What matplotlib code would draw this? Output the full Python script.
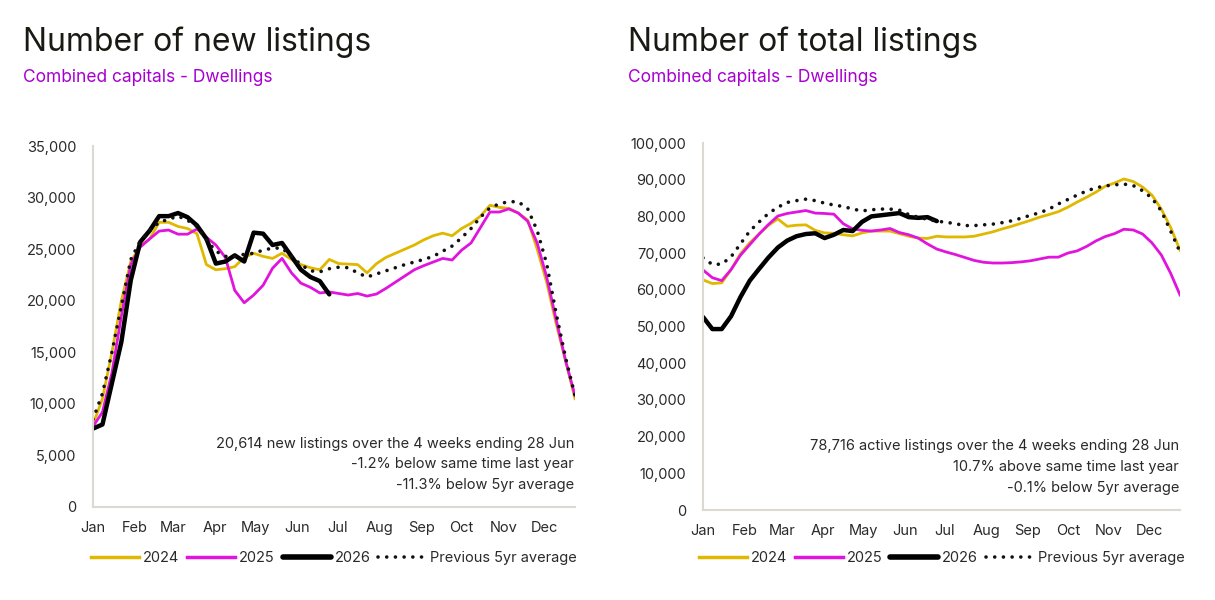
import matplotlib
matplotlib.use("Agg")
import matplotlib.pyplot as plt
from matplotlib.lines import Line2D
from matplotlib.ticker import FuncFormatter

plt.rcParams['font.family'] = ['Inter', 'DejaVu Sans']

# ── Data (weekly, week 0..51) ──
months = ["Jan", "Feb", "Mar", "Apr", "May", "Jun", "Jul", "Aug", "Sep", "Oct", "Nov", "Dec"]
month_start_week = [0, 31/7, 59/7, 90/7, 120/7, 151/7, 181/7, 212/7, 243/7, 273/7, 304/7, 334/7]

new_2024 = [8000, 10500, 15000, 20000, 23800, 25300, 26000, 27600, 27600, 27200,
            27000, 26500, 23500, 23000, 23100, 23300, 24200, 24600, 24300, 24100,
            24600, 24000, 23500, 23200, 23000, 24000, 23600, 23550, 23500, 22700,
            23600, 24200, 24600, 25000, 25400, 25900, 26300, 26550, 26300, 27000,
            27500, 28200, 29250, 29050, 28950, 28500, 27800, 25000, 21800, 17800,
            14200, 10500]
new_2025 = [7800, 9200, 13000, 18500, 23500, 25200, 26000, 26750, 26850, 26450,
            26450, 26950, 26150, 25400, 24200, 21000, 19800, 20550, 21500, 23150,
            24100, 22700, 21700, 21300, 20750, 20850, 20700, 20550, 20700, 20450,
            20650, 21200, 21800, 22400, 23000, 23400, 23750, 24100, 23950, 24900,
            25600, 27100, 28600, 28600, 28900, 28500, 27700, 25600, 22300, 18200,
            14200, 10800]
new_2026 = [7600, 8000, 12000, 16000, 22000, 25700, 26800, 28200, 28200, 28500,
            28100, 27300, 26000, 23600, 23800, 24400, 23800, 26600, 26500, 25400,
            25600, 24300, 23000, 22300, 21900, 20614]
new_avg = [8500, 11000, 15000, 19500, 24000, 25800, 26800, 27600, 27900, 28200,
           27800, 27200, 25900, 24800, 24300, 24300, 24500, 24600, 24900, 25100,
           25100, 24300, 23500, 22900, 22800, 23100, 23250, 23200, 22700, 22300,
           22600, 22900, 23200, 23500, 23750, 24000, 24300, 24800, 25300, 26100,
           27000, 28100, 29000, 29400, 29600, 29600, 28900, 26800, 23600, 18800,
           14500, 10800]

tot_2024 = [62700, 61700, 61900, 65500, 69800, 72800, 75200, 77600, 79300, 77300,
            77600, 77700, 76200, 75500, 75400, 75000, 74700, 75500, 76000, 76000,
            76000, 75300, 74600, 74100, 74000, 74600, 74400, 74400, 74400, 74600,
            75200, 75800, 76600, 77300, 78100, 78900, 79800, 80500, 81300, 82500,
            83900, 85200, 86600, 88200, 89100, 90200, 89500, 88000, 85800, 82000,
            77000, 70800]
tot_2025 = [65400, 63300, 62500, 65500, 69400, 72300, 75200, 77800, 80100, 80800,
            81200, 81600, 80900, 80800, 80600, 78000, 76600, 76200, 76000, 76300,
            76700, 75600, 75000, 74100, 72500, 71100, 70300, 69600, 68800, 68000,
            67500, 67300, 67300, 67400, 67600, 67900, 68400, 68900, 68900, 70000,
            70600, 71800, 73300, 74500, 75300, 76500, 76300, 75200, 72800, 69500,
            64500, 58600]
tot_2026 = [52600, 49300, 49300, 52800, 58000, 62500, 65700, 68800, 71500, 73400,
            74600, 75200, 75400, 74100, 75000, 76300, 76000, 78500, 80000, 80300,
            80600, 80900, 79800, 79600, 79800, 78716]
tot_avg = [68700, 66900, 67000, 69000, 72500, 76000, 78500, 80800, 82500, 83800,
           84300, 84700, 84300, 83600, 83100, 82700, 82000, 81500, 81800, 82000,
           82000, 81700, 80500, 79800, 79200, 78700, 78400, 78000, 77500, 77500,
           77700, 77900, 78300, 78800, 79500, 80300, 81000, 82000, 83400, 84600,
           85800, 86900, 87800, 88300, 88600, 88800, 88400, 87000, 85000, 81500,
           76000, 70300]

# ── Style ──
GOLD = '#E0B800'
MAGENTA = '#E014DC'
PURPLE = '#A800D0'
SPINE = '#dcd9d2'
TXT = '#2a2a2a'


def draw_panel(ax, s24, s25, s26, savg, ymax, ystep, notes, leg_y):
    ax.plot(range(len(s24)), s24, color=GOLD, lw=2.0, solid_joinstyle='round')
    ax.plot(range(len(s25)), s25, color=MAGENTA, lw=2.0, solid_joinstyle='round')
    ax.plot(range(len(s26)), s26, color='black', lw=3.2, solid_joinstyle='round',
            solid_capstyle='round')
    ax.plot(range(len(savg)), savg, color='#111111', lw=2.6,
            linestyle=(0, (0.01, 2.4)), dash_capstyle='round')
    ax.set_xlim(0, 51)
    ax.set_ylim(0, ymax)
    ax.set_yticks(range(0, ymax + 1, ystep))
    ax.yaxis.set_major_formatter(FuncFormatter(lambda v, p: f"{int(v):,}"))
    ax.set_xticks(month_start_week)
    ax.set_xticklabels(months)
    ax.tick_params(length=0, labelsize=10.5, colors=TXT)
    ax.tick_params(axis='y', pad=12)
    ax.tick_params(axis='x', pad=10)
    for s in ('top', 'right'):
        ax.spines[s].set_visible(False)
    for s in ('left', 'bottom'):
        ax.spines[s].set_color(SPINE)
        ax.spines[s].set_linewidth(1.5)
    for i, t in enumerate(notes):
        ax.text(0.998, 0.175 - i * 0.057, t, transform=ax.transAxes, ha='right',
                va='center', fontsize=10.5, color=TXT)
    handles = [
        Line2D([], [], color=GOLD, lw=2.5),
        Line2D([], [], color=MAGENTA, lw=2.5),
        Line2D([], [], color='black', lw=4, solid_capstyle='round'),
        Line2D([], [], color='#111111', lw=2.6, linestyle=(0, (0.01, 2.4)),
               dash_capstyle='round'),
    ]
    ax.legend(handles, ["2024", "2025", "2026", "Previous 5yr average"],
              loc='center', bbox_to_anchor=(0.5, leg_y), ncol=4,
              frameon=False, fontsize=10.5, handlelength=3.3,
              handletextpad=0.25, columnspacing=0.55, labelcolor=TXT)


fig = plt.figure(figsize=(12.15, 6), dpi=100)
ax1 = fig.add_axes([93/1215, 1 - 507/600, 482/1215, 361/600])
ax2 = fig.add_axes([703/1215, 1 - 510/600, 477/1215, 367/600])

draw_panel(ax1, new_2024, new_2025, new_2026, new_avg, 35000, 5000, [
    "20,614 new listings over the 4 weeks ending 28 Jun",
    "-1.2% below same time last year",
    "-11.3% below 5yr average",
], -(558 - 507) / 361)
draw_panel(ax2, tot_2024, tot_2025, tot_2026, tot_avg, 100000, 10000, [
    "78,716 active listings over the 4 weeks ending 28 Jun",
    "10.7% above same time last year",
    "-0.1% below 5yr average",
], -(558 - 510) / 367)

fig.text(23/1215, 1 - 42/600, "Number of new listings", fontsize=23,
         color='#1a1a14', va='center', ha='left')
fig.text(23/1215, 1 - 77/600, "Combined capitals - Dwellings", fontsize=12.5,
         color=PURPLE, va='center', ha='left')
fig.text(628/1215, 1 - 42/600, "Number of total listings", fontsize=23,
         color='#1a1a14', va='center', ha='left')
fig.text(628/1215, 1 - 77/600, "Combined capitals - Dwellings", fontsize=12.5,
         color=PURPLE, va='center', ha='left')

fig.savefig("out.png", dpi=100, facecolor='white')
